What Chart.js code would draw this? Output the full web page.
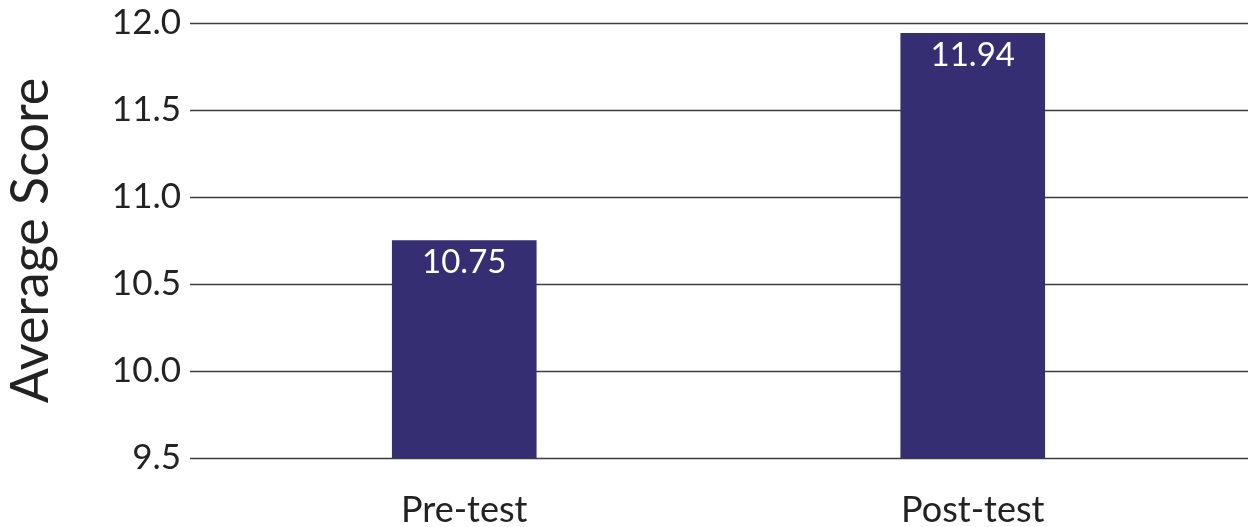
<!DOCTYPE html>
<html>
<head>
<meta charset="utf-8">
<script src="https://cdn.jsdelivr.net/npm/chart.js@4/dist/chart.umd.min.js"></script>
<style>
  html, body { margin: 0; padding: 0; background: #fff; }
  #wrap { width: 1248px; height: 527px; }
</style>
</head>
<body>
<div id="wrap"><canvas id="scoreChart"></canvas></div>
<script>
// Data
const categories = ["Pre-test", "Post-test"];
const avgScores  = [10.75, 11.94];
const yTicks     = [9.5, 10.0, 10.5, 11.0, 11.5, 12.0];

const FONT = "Lato, 'Open Sans', sans-serif";
const BAR_COLOR = "#352e72";
const GRID_COLOR = "#3c3c3c";

// horizontal rules run wider than the bar area
const wideGrid = {
  id: "wideGrid",
  beforeDatasetsDraw(chart) {
    const y = chart.scales.y;
    const c = chart.ctx;
    c.save();
    c.strokeStyle = GRID_COLOR;
    c.lineWidth = 1.5;
    yTicks.forEach(v => {
      const py = Math.round(y.getPixelForValue(v)) + 0.5;
      c.beginPath();
      c.moveTo(190, py);
      c.lineTo(chart.width, py);
      c.stroke();
    });
    c.restore();
  }
};

// value labels inside bar tops
const barLabels = {
  id: "barLabels",
  afterDatasetsDraw(chart) {
    const c = chart.ctx;
    const meta = chart.getDatasetMeta(0);
    c.save();
    c.fillStyle = "#ffffff";
    c.font = "33px " + FONT;
    c.textAlign = "center";
    c.textBaseline = "middle";
    meta.data.forEach((bar, i) => {
      c.fillText(avgScores[i].toFixed(2), bar.x, bar.y + 22);
    });
    c.restore();
  }
};

new Chart(document.getElementById("scoreChart"), {
  type: "bar",
  data: {
    labels: categories,
    datasets: [{
      data: avgScores,
      backgroundColor: BAR_COLOR,
      barThickness: 144,
      base: 9.5
    }]
  },
  options: {
    responsive: true,
    maintainAspectRatio: false,
    animation: false,
    layout: { padding: { left: 0, right: 21, top: 0, bottom: 0 } },
    plugins: {
      legend: { display: false },
      tooltip: { enabled: false }
    },
    scales: {
      x: {
        afterFit(scale) { scale.height = 69; },
        grid: { display: false, drawTicks: false },
        border: { display: false },
        ticks: {
          color: "#222",
          padding: 31,
          font: { family: FONT, size: 36 }
        }
      },
      y: {
        min: 9.5,
        max: 12.0,
        afterFit(scale) {
          scale.width = 210;
          scale.paddingTop = 23;
          scale.paddingBottom = 0;
        },
        afterBuildTicks(scale) {
          scale.ticks = yTicks.map(v => ({ value: v }));
        },
        grid: { display: false, drawTicks: false },
        border: { display: false },
        ticks: {
          color: "#222",
          padding: 29,
          font: { family: FONT, size: 35 },
          callback: v => Number(v).toFixed(1)
        },
        title: {
          display: true,
          text: "Average Score",
          color: "#222",
          padding: { top: 0, bottom: 0 },
          font: { family: FONT, size: 52 }
        }
      }
    }
  },
  plugins: [wideGrid, barLabels]
});
</script>
</body>
</html>
